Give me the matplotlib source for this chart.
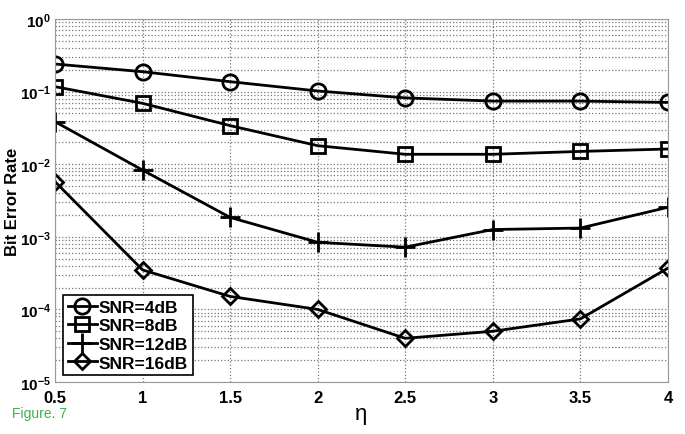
import matplotlib
matplotlib.use("Agg")
import matplotlib.pyplot as plt
from matplotlib.ticker import LogLocator, FixedLocator

plt.rcParams['font.family'] = ['Liberation Sans', 'DejaVu Sans']

eta = [0.5, 1, 1.5, 2, 2.5, 3, 3.5, 4]
ber_4db = [0.24, 0.188, 0.137, 0.102, 0.082, 0.074, 0.074, 0.071]
ber_8db = [0.117, 0.069, 0.034, 0.018, 0.0137, 0.0137, 0.015, 0.0162]
ber_12db = [0.0385, 0.0083, 0.00185, 0.00084, 0.00072, 0.00126, 0.00132, 0.00255]
ber_16db = [0.00575, 0.00035, 0.000151, 0.0001, 0.00004, 0.00005, 0.000074, 0.00037]
labels = ["SNR=4dB", "SNR=8dB", "SNR=12dB", "SNR=16dB"]
markers = ["o", "s", "+", "D"]

fig = plt.figure(figsize=(6.85, 4.35), dpi=100)
ax = fig.add_axes([0.0803, 0.1195, 0.8947, 0.8345])

for ys, lab, m in zip([ber_4db, ber_8db, ber_12db, ber_16db], labels, markers):
    ms = 11
    if m == "s":
        ms = 9.5
    if m == "D":
        ms = 8.5
    if m == "+":
        ms = 14
    ax.semilogy(eta, ys, color="black", lw=2, marker=m, markersize=ms,
                markerfacecolor="none", markeredgecolor="black",
                markeredgewidth=2, label=lab)

ax.set_xlim(0.5, 4)
ax.set_ylim(1e-5, 1)
ax.xaxis.set_major_locator(FixedLocator(eta))
ax.set_xticklabels(["0.5", "1", "1.5", "2", "2.5", "3", "3.5", "4"])
ax.yaxis.set_major_locator(LogLocator(base=10, numticks=10))
ax.yaxis.set_minor_locator(LogLocator(base=10, subs=range(2, 10), numticks=20))
ax.grid(True, which="major", axis="x", linestyle=":", color="#777777", lw=0.9)
ax.grid(True, which="both", axis="y", linestyle=":", color="#777777", lw=0.9)
ax.tick_params(which="both", direction="in", length=0)
ax.tick_params(axis="x", pad=6)
ax.tick_params(axis="y", pad=3)
for lbl in ax.get_xticklabels():
    lbl.set_fontweight("bold")
    lbl.set_fontsize(12)
for lbl in ax.get_yticklabels():
    lbl.set_fontweight("bold")
    lbl.set_fontsize(11)
for s in ax.spines.values():
    s.set_color("#999999")
    s.set_linewidth(0.8)

ax.set_ylabel("Bit Error Rate", fontsize=12, fontweight="bold")
ax.yaxis.set_label_coords(-0.057, 0.5)
ax.set_xlabel("η", fontsize=16, labelpad=-2)

leg = ax.legend(loc="lower left", bbox_to_anchor=(0.008, 0.01), fancybox=False,
                framealpha=1, edgecolor="black", borderpad=0.25, labelspacing=0.2,
                handlelength=1.7, handletextpad=0.1, borderaxespad=0.2,
                prop={"weight": "bold", "size": 12.5})
leg.get_frame().set_linewidth(1.2)

fig.text(0.017, 0.04, "Figure. 7", color="#3cb34a", fontsize=10)

fig.savefig("out.png", dpi=100)
